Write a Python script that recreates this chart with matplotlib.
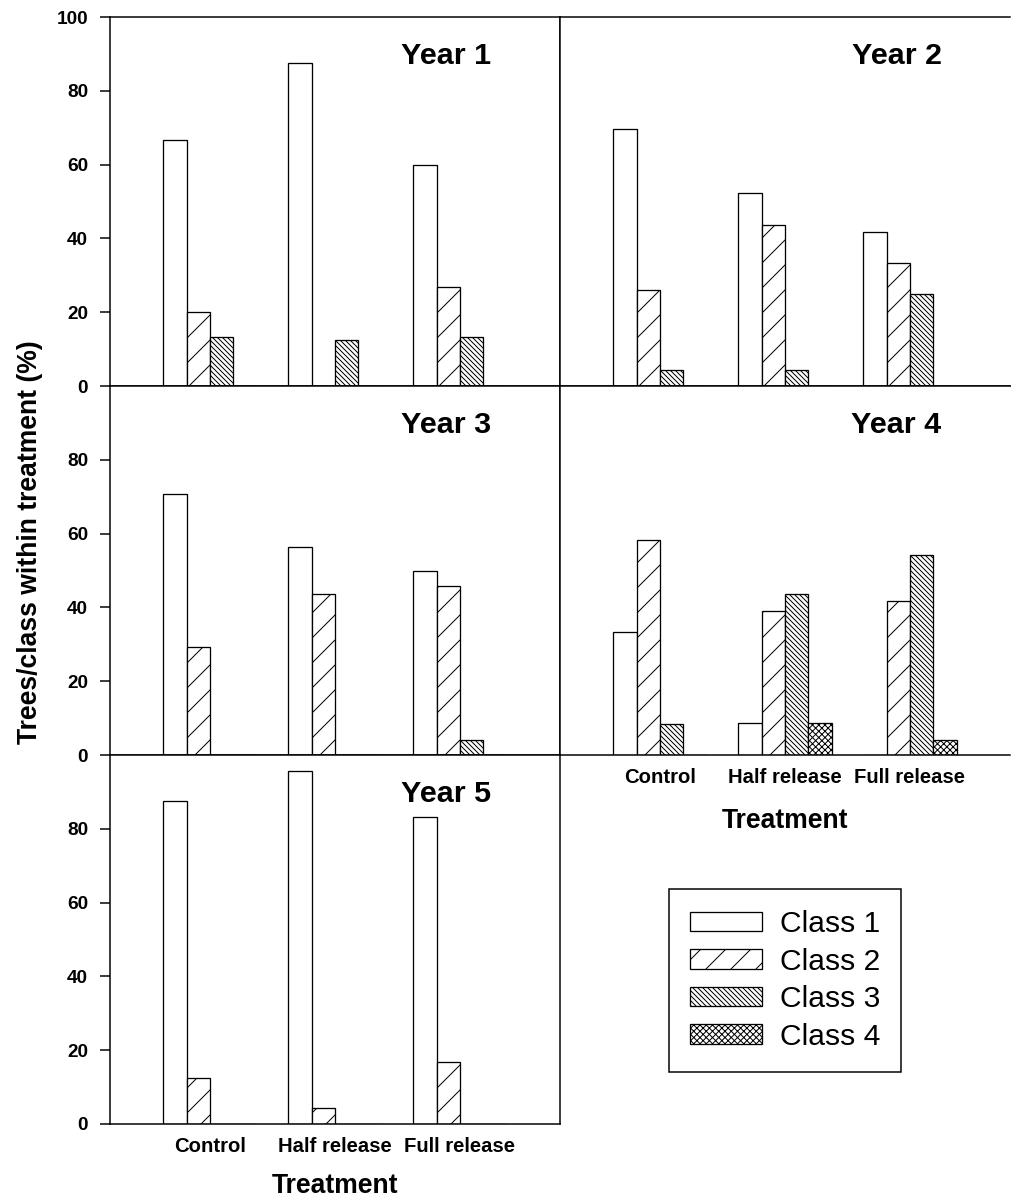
import numpy as np
import matplotlib
matplotlib.use('Agg')
import matplotlib.pyplot as plt

# percent of trees per class within each treatment
treatments = ['Control', 'Half release', 'Full release']
classes = ['Class 1', 'Class 2', 'Class 3', 'Class 4']
hatches = ['', '//', '\\' * 10, 'x' * 8]

# rows = treatment, columns = class 1..4
year1 = [[66.7, 20.0, 13.3, 0.0], [87.5, 0.0, 12.5, 0.0], [60.0, 26.7, 13.3, 0.0]]
year2 = [[69.6, 26.1, 4.3, 0.0], [52.2, 43.5, 4.3, 0.0], [41.7, 33.3, 25.0, 0.0]]
year3 = [[70.8, 29.2, 0.0, 0.0], [56.5, 43.5, 0.0, 0.0], [50.0, 45.8, 4.2, 0.0]]
year4 = [[33.3, 58.3, 8.3, 0.0], [8.7, 39.1, 43.5, 8.7], [0.0, 41.7, 54.2, 4.2]]
year5 = [[87.5, 12.5, 0.0, 0.0], [95.7, 4.3, 0.0, 0.0], [83.3, 16.7, 0.0, 0.0]]
years = [year1, year2, year3, year4, year5]
year_names = ['Year 1', 'Year 2', 'Year 3', 'Year 4', 'Year 5']

DPI = 150
W, H = 1011, 1199
def pt(px):
    # pixel size -> points at this dpi
    return px * 72.0 / DPI

plt.rcParams['font.family'] = ['Liberation Sans', 'DejaVu Sans']
plt.rcParams['hatch.linewidth'] = pt(1.0)
plt.rcParams['hatch.color'] = 'black'

fig = plt.figure(figsize=(W / DPI, H / DPI), dpi=DPI)

# panel boxes in pixels: (x0, x1, ytop, ybottom)
colx = [(110, 560), (560, 1010)]
rowy = [(17, 386), (386, 755), (755, 1124)]
slots = [(0, 0), (0, 1), (1, 0), (1, 1), (2, 0)]

width = 0.1867
x = np.arange(1, len(treatments) + 1)

for i, (r, c) in enumerate(slots):
    x0, x1 = colx[c]
    yt, yb = rowy[r]
    ax = fig.add_axes([x0 / W, 1 - yb / H, (x1 - x0) / W, (yb - yt) / H])
    data = np.array(years[i])
    for k in range(len(classes)):
        ax.bar(x + (k - 1.5) * width, data[:, k], width, color='white',
               edgecolor='black', linewidth=pt(1.3), hatch=hatches[k],
               label=classes[k])
    ax.set_xlim(0.2, 3.8)
    ax.set_ylim(0, 100)
    for s in ax.spines.values():
        s.set_linewidth(pt(1.5))
    if c == 1:
        ax.spines['right'].set_visible(False)
        ax.tick_params(axis='y', left=False, labelleft=False)
    else:
        if r == 0:
            ax.set_yticks([0, 20, 40, 60, 80, 100])
        else:
            ax.set_yticks([0, 20, 40, 60, 80])
        ax.tick_params(axis='y', direction='out', length=pt(10), width=pt(1.5),
                       pad=pt(12), labelsize=pt(19))
        for lab in ax.get_yticklabels():
            lab.set_fontweight('bold')
    ax.text(0.848, 0.872, year_names[i], transform=ax.transAxes, ha='right',
            va='baseline', fontsize=pt(30.5), fontweight='bold')
    ax.set_xticks(x)
    if (r, c) in [(2, 0), (1, 1)]:
        ax.set_xticklabels(treatments, fontsize=pt(20.3), fontweight='bold')
        ax.tick_params(axis='x', length=0, pad=pt(13))
        lp = 21 if c == 1 else 17
        ax.set_xlabel('Treatment', fontsize=pt(26.5), fontweight='bold',
                      labelpad=pt(lp))
    else:
        ax.tick_params(axis='x', length=0, labelbottom=False)
    if i == 0:
        handles, labels = ax.get_legend_handles_labels()

fig.text(30 / W, 1 - 542 / H, 'Trees/class within treatment (%)', rotation=90,
         ha='center', va='center', fontsize=pt(26.5), fontweight='bold')

leg = fig.legend(handles, labels, loc='upper left',
                 bbox_to_anchor=(669 / W, 1 - 889 / H), borderaxespad=0,
                 fontsize=pt(30), handlelength=2.4, handleheight=0.63,
                 handletextpad=0.6, labelspacing=0.32, borderpad=0.7,
                 fancybox=False, edgecolor='black', framealpha=1)
leg.get_frame().set_linewidth(pt(1.5))

fig.savefig('out.png', dpi=DPI)
